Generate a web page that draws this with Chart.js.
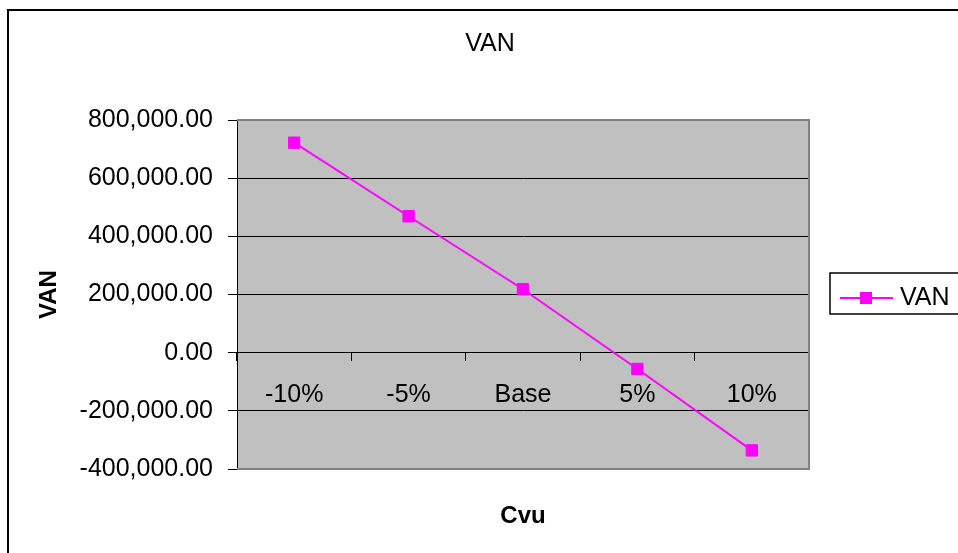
<!DOCTYPE html>
<html>
<head>
<meta charset="utf-8">
<script src="https://cdn.jsdelivr.net/npm/chart.js@4.4.0/dist/chart.umd.min.js"></script>
<style>
  html, body { margin: 0; padding: 0; background: #fff; }
  canvas { display: block; }
</style>
</head>
<body>
<canvas id="myChart" width="958" height="553"></canvas>
<script>
// data
var categories = ['-10%', '-5%', 'Base', '5%', '10%'];
var vanValues = [722000, 469000, 218000, -56000, -336000];
var yTicks = [-400000, -200000, 0, 200000, 400000, 600000, 800000];

var magenta = '#FF00FF';
var fontFamily = '"Liberation Sans", Arial, sans-serif';

Chart.defaults.font.family = fontFamily;
Chart.defaults.color = '#000';

function fmt(v) {
  return v.toLocaleString('en-US', { minimumFractionDigits: 2, maximumFractionDigits: 2 });
}

// background, outer frame, grey plot area, titles and legend box
var framePlugin = {
  id: 'frame',
  beforeDraw: function (chart) {
    var ctx = chart.ctx, a = chart.chartArea;
    ctx.save();
    ctx.fillStyle = '#fff';
    ctx.fillRect(0, 0, chart.width, chart.height);
    ctx.strokeStyle = '#000';
    ctx.lineWidth = 2;
    ctx.strokeRect(8, 10, chart.width + 20, chart.height + 20);
    ctx.fillStyle = '#C0C0C0';
    ctx.fillRect(a.left, a.top, a.right - a.left, a.bottom - a.top);
    ctx.restore();
  },
  beforeDatasetsDraw: function (chart) {
    var ctx = chart.ctx, a = chart.chartArea;
    ctx.save();
    ctx.strokeStyle = '#808080';
    ctx.lineWidth = 2;
    ctx.beginPath();
    ctx.moveTo(a.left, a.top);
    ctx.lineTo(a.right, a.top);
    ctx.lineTo(a.right, a.bottom);
    ctx.lineTo(a.left, a.bottom);
    ctx.stroke();
    ctx.restore();
  },
  afterDraw: function (chart) {
    var ctx = chart.ctx, a = chart.chartArea;
    ctx.save();
    ctx.fillStyle = '#000';
    ctx.textBaseline = 'middle';
    // chart title
    ctx.font = '25px ' + fontFamily;
    ctx.textAlign = 'center';
    ctx.fillText('VAN', 490, 44);
    // x axis title
    ctx.font = 'bold 24px ' + fontFamily;
    ctx.fillText('Cvu', (a.left + a.right) / 2, 516);
    // legend box
    ctx.fillStyle = '#fff';
    ctx.fillRect(830, 273, 140, 41);
    ctx.strokeStyle = '#000';
    ctx.lineWidth = 1.5;
    ctx.strokeRect(830, 273, 140, 41);
    ctx.strokeStyle = magenta;
    ctx.lineWidth = 2;
    ctx.beginPath();
    ctx.moveTo(840, 298);
    ctx.lineTo(893, 298);
    ctx.stroke();
    ctx.fillStyle = magenta;
    ctx.fillRect(860, 292, 12, 12);
    ctx.fillStyle = '#000';
    ctx.font = '25px ' + fontFamily;
    ctx.textAlign = 'left';
    ctx.fillText('VAN', 900, 298);
    ctx.restore();
  }
};

var ctx = document.getElementById('myChart').getContext('2d');
var myChart = new Chart(ctx, {
  type: 'line',
  data: {
    labels: categories,
    datasets: [{
      label: 'VAN',
      data: vanValues,
      borderColor: magenta,
      backgroundColor: magenta,
      borderWidth: 2,
      tension: 0,
      pointStyle: 'rect',
      pointRadius: 8,
      pointBorderWidth: 1,
      pointBackgroundColor: magenta,
      pointBorderColor: magenta
    }]
  },
  options: {
    responsive: false,
    animation: false,
    layout: { padding: { left: 22, right: 149, top: 120, bottom: 84 } },
    plugins: {
      legend: { display: false },
      tooltip: { enabled: false },
      title: { display: false }
    },
    scales: {
      x: {
        type: 'category',
        position: { y: 0 },
        offset: true,
        grid: {
          offset: true,
          drawOnChartArea: false,
          drawTicks: true,
          tickLength: 8,
          color: '#000'
        },
        border: { color: '#000', width: 1 },
        ticks: { padding: 19, font: { size: 25 }, color: '#000', maxRotation: 0 }
      },
      y: {
        position: 'left',
        min: -400000,
        max: 800000,
        afterFit: function (s) { s.width = 215; },
        afterBuildTicks: function (s) {
          s.ticks = yTicks.map(function (v) { return { value: v }; });
        },
        grid: { color: '#000', lineWidth: 1, tickLength: 9 },
        border: { color: '#000', width: 1 },
        ticks: {
          padding: 15,
          font: { size: 25 },
          color: '#000',
          callback: function (v) { return fmt(v); }
        },
        title: {
          display: true,
          text: 'VAN',
          font: { size: 24, weight: 'bold' },
          padding: { top: 13, bottom: 0 }
        }
      }
    }
  },
  plugins: [framePlugin]
});
</script>
</body>
</html>
